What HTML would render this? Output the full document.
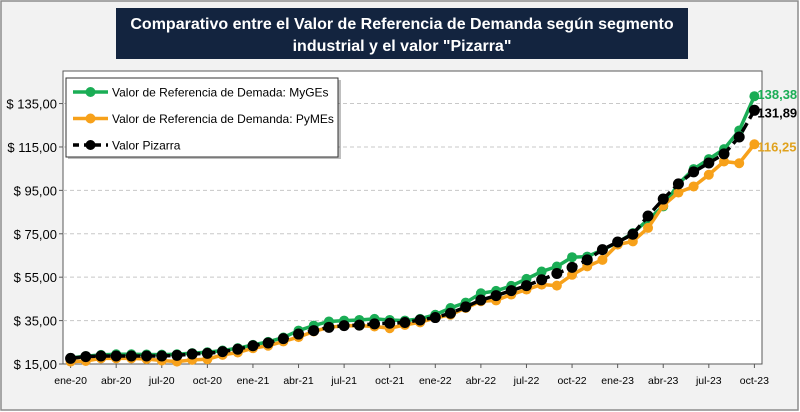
<!DOCTYPE html>
<html><head><meta charset="utf-8">
<style>
html,body{margin:0;padding:0;background:#fff;}
#wrap{position:relative;width:800px;height:412px;overflow:hidden;font-family:"Liberation Sans",sans-serif;}
</style></head>
<body>
<div id="wrap">
<svg id="chart" width="800" height="412" xmlns="http://www.w3.org/2000/svg"></svg>
</div>
<script>
const categories = ["ene-20","feb-20","mar-20","abr-20","may-20","jun-20","jul-20","ago-20","sep-20","oct-20","nov-20","dic-20",
"ene-21","feb-21","mar-21","abr-21","may-21","jun-21","jul-21","ago-21","sep-21","oct-21","nov-21","dic-21",
"ene-22","feb-22","mar-22","abr-22","may-22","jun-22","jul-22","ago-22","sep-22","oct-22","nov-22","dic-22",
"ene-23","feb-23","mar-23","abr-23","may-23","jun-23","jul-23","ago-23","sep-23","oct-23"];
const mygesValues = [17.8,18.6,19.2,19.5,19.5,19.4,19.3,19.5,20.0,20.4,21.2,22.3,
23.8,25.2,27.2,30.4,32.7,34.6,35.0,35.3,35.8,35.3,35.0,35.8,
37.7,40.8,43.3,47.6,48.7,51.0,54.2,57.6,59.9,64.2,64.5,67.6,
71.0,75.3,81.5,87.6,98.0,104.8,109.4,114.0,122.6,138.38];
const pymesValues = [16.1,16.4,17.6,17.6,17.6,17.3,16.6,16.1,16.9,17.2,19.2,20.3,
22.3,23.4,25.4,27.4,30.0,31.9,32.6,32.7,32.3,31.5,33.0,34.2,
36.2,37.7,40.8,43.9,44.3,47.0,49.3,51.6,51.1,56.1,60.0,63.0,
70.0,71.5,77.7,88.0,94.0,96.8,102.2,108.3,107.5,116.25];
const pizarraValues = [17.6,18.4,18.7,18.7,18.7,18.7,18.7,19.0,19.6,19.9,20.7,21.8,
23.4,24.7,26.7,28.8,30.4,31.9,32.7,32.9,33.5,33.8,34.1,35.3,
36.4,38.4,41.3,44.5,46.5,48.8,51.1,53.8,56.7,59.5,63.0,67.7,
71.2,74.8,83.2,91.0,98.0,103.5,107.6,111.8,119.6,131.89];
const yTicks = [15,35,55,75,95,115,135];
const yTickLabels = ["$ 15,00","$ 35,00","$ 55,00","$ 75,00","$ 95,00","$ 115,00","$ 135,00"];
const endLabels = ["138,38","116,25","131,89"];

const NS="http://www.w3.org/2000/svg";
const svg=document.getElementById('chart');
function mk(tag,attrs,parent){const e=document.createElementNS(NS,tag);for(const k in attrs)e.setAttribute(k,attrs[k]);(parent||svg).appendChild(e);return e;}
const L=63,R=762,T=71,B=364,yMin=15,yMax=150;
const bw=(R-L)/categories.length;
function x(i){return L+bw*(i+0.5);}
function y(v){return B-(v-yMin)/(yMax-yMin)*(B-T);}

let e;
e=mk('rect',{x:1,y:1,width:797,height:409,fill:'#f2f2f2',stroke:'#8c8c8c','stroke-width':1.5});


e=mk('rect',{x:116,y:8,width:572,height:51,fill:'#13243f'});


e=mk('text',{x:402,y:29,'text-anchor':'middle',fill:'#fff','font-size':16,'font-weight':'bold'});
e.textContent='Comparativo entre el Valor de Referencia de Demanda según segmento';


e=mk('text',{x:402,y:51,'text-anchor':'middle',fill:'#fff','font-size':16,'font-weight':'bold'});
e.textContent='industrial y el valor "Pizarra"';


e=mk('rect',{x:L,y:T,width:R-L,height:B-T,fill:'#fff',stroke:'#595959','stroke-width':1});



yTicks.forEach((t,i)=>{
  if(i>0){e=mk('line',{x1:L,x2:R,y1:y(t),y2:y(t),stroke:'#c8c8c8','stroke-dasharray':'4,3'});
  
  }
  e=mk('line',{x1:L-4,x2:L,y1:y(t),y2:y(t),stroke:'#595959'});
  
  
  e=mk('text',{x:57,y:y(t)+5,'text-anchor':'end','font-size':13,fill:'#000'});
  e.textContent=yTickLabels[i];
  
  
});
categories.forEach((c,i)=>{
  if(i%3===0){
    e=mk('line',{x1:x(i),x2:x(i),y1:B,y2:B+4,stroke:'#595959'});
    
    
    e=mk('text',{x:x(i),y:B+20,'text-anchor':'middle','font-size':10.5,fill:'#000'});
    e.textContent=c;
    
    
  }
});
const series=[
 {vals:mygesValues,color:'#1aad55',dash:null,name:'series-myges',lbl:endLabels[0],lc:'#1aad55',dy:-2},
 {vals:pymesValues,color:'#f7a11a',dash:null,name:'series-pymes',lbl:endLabels[1],lc:'#e0a21e',dy:2},
 {vals:pizarraValues,color:'#000',dash:'10,5',name:'series-pizarra',lbl:endLabels[2],lc:'#000',dy:2}
];
series.forEach(s=>{
  const g=mk('g',{});
  
  
  const pts=s.vals.map((v,i)=>x(i)+','+y(v)).join(' ');
  const a={points:pts,fill:'none',stroke:s.color,'stroke-width':3.5};
  if(s.dash)a['stroke-dasharray']=s.dash;
  e=mk('polyline',a,g);
  
  
  s.vals.forEach((v,i)=>{
    e=mk('circle',{cx:x(i),cy:y(v),r:s.dash?5.5:5,fill:s.color},g);
    
    
  });
  const n=s.vals.length-1;
  e=mk('text',{x:x(n)+3,y:y(s.vals[n])+5+s.dy,'font-size':13,'font-weight':'bold',fill:s.lc},g);
  e.textContent=s.lbl;
  
  
});
const lg=mk('g',{});


e=mk('rect',{x:68,y:80,width:273,height:79,fill:'#000',opacity:0.25},lg);


e=mk('rect',{x:66,y:78,width:272,height:79,fill:'#fff',stroke:'#333','stroke-width':1},lg);


const legItems=[['Valor de Referencia de Demada: MyGEs','#1aad55',null],['Valor de Referencia de Demanda: PyMEs','#f7a11a',null],['Valor Pizarra','#000','6,5']];
legItems.forEach((it,i)=>{
  const yy=92+i*26.5;
  const gi=mk('g',{},lg);
  
  
  const a={x1:73,x2:108,y1:yy,y2:yy,stroke:it[1],'stroke-width':3.5};
  if(it[2])a['stroke-dasharray']=it[2];
  e=mk('line',a,gi);
  
  
  e=mk('circle',{cx:90.5,cy:yy,r:5,fill:it[1]},gi);
  
  
  e=mk('text',{x:112,y:yy+4.5,'font-size':12,fill:'#000'},gi);
  e.textContent=it[0];
  
  
});
</script>
</body></html>
